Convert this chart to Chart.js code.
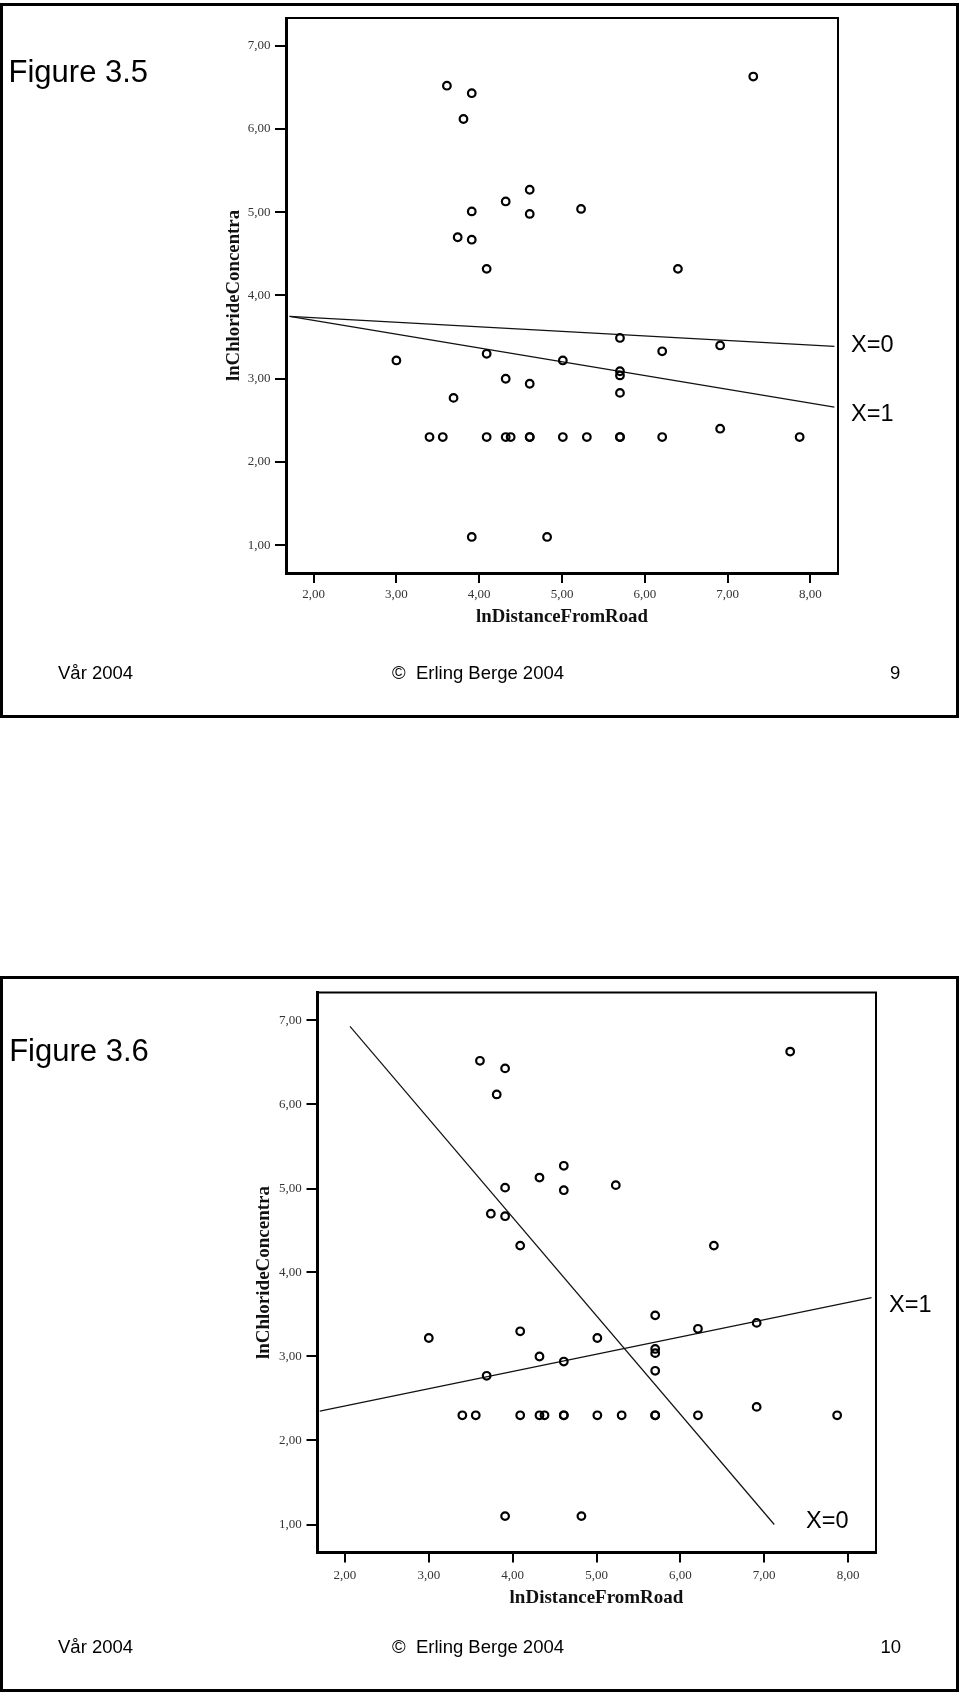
<!DOCTYPE html>
<html>
<head>
<meta charset="utf-8">
<script src="https://cdn.jsdelivr.net/npm/chart.js@4.4.1/dist/chart.umd.min.js"></script>
<style>
html,body{margin:0;padding:0;background:#fff;}
body{position:relative;width:960px;height:1695px;overflow:hidden;}
.slide{position:absolute;box-sizing:border-box;border:3px solid #000;}
canvas{position:absolute;left:0;}
.t{position:absolute;line-height:1;white-space:pre;font-family:"Liberation Sans",Arial,sans-serif;color:#000;}
</style>
</head>
<body>
<div class="slide" style="left:0;top:2.5px;width:958.5px;height:715px"></div>
<div class="slide" style="left:0;top:976.2px;width:958.5px;height:716.3px"></div>
<canvas id="fig35" width="960" height="720" style="top:0"></canvas>
<canvas id="fig36" width="960" height="720" style="top:975px"></canvas>

<div class="t" style="left:8.5px;top:55.5px;font-size:31px">Figure 3.5</div>
<div class="t" style="left:851px;top:332.7px;font-size:23.5px">X=0</div>
<div class="t" style="left:851px;top:401.6px;font-size:23.5px">X=1</div>
<div class="t" style="left:58px;top:663.8px;font-size:18.5px">Vår 2004</div>
<div class="t" style="left:392px;top:663.8px;font-size:18.5px">©  Erling Berge 2004</div>
<div class="t" style="left:890px;top:663.8px;font-size:18.5px">9</div>

<div class="t" style="left:9.2px;top:1034.5px;font-size:31px">Figure 3.6</div>
<div class="t" style="left:889px;top:1292.6px;font-size:23.5px">X=1</div>
<div class="t" style="left:806px;top:1509.4px;font-size:23.5px">X=0</div>
<div class="t" style="left:58px;top:1637.9px;font-size:18.5px">Vår 2004</div>
<div class="t" style="left:392px;top:1637.9px;font-size:18.5px">©  Erling Berge 2004</div>
<div class="t" style="left:880.5px;top:1637.9px;font-size:18.5px">10</div>

<script>
// ---- data ----
const lnDistanceFromRoad = [
  3.61, 3.91, 3.81, 4.61, 4.32, 3.91, 4.61, 5.23, 3.74, 3.91, 4.09, 6.40, 7.31,
  3.00, 4.09, 5.01, 5.70, 6.21, 6.91, 5.70, 5.70, 4.32, 4.61, 3.69, 5.70, 6.91,
  3.40, 3.56, 4.09, 4.32, 4.38, 4.61, 4.61, 5.01, 5.30, 5.70, 5.70, 6.21, 7.87,
  3.91, 4.82
];
const lnChlorideConcentra = [
  6.52, 6.43, 6.12, 5.27, 5.13, 5.01, 4.98, 5.04, 4.70, 4.67, 4.32, 4.32, 6.63,
  3.22, 3.30, 3.22, 3.49, 3.33, 3.40, 3.09, 3.04, 3.00, 2.94, 2.77, 2.83, 2.40,
  2.30, 2.30, 2.30, 2.30, 2.30, 2.30, 2.30, 2.30, 2.30, 2.30, 2.30, 2.30, 2.30,
  1.10, 1.10
];
const xTickValues = [2, 3, 4, 5, 6, 7, 8];
const yTickValues = [1, 2, 3, 4, 5, 6, 7];
const xTitle = 'lnDistanceFromRoad';
const yTitle = 'lnChlorideConcentra';

// fitted lines (end points)
const fig35X0x = [1.71, 8.29];
const fig35X0y = [3.75, 3.39];
const fig35X1x = [1.71, 8.29];
const fig35X1y = [3.75, 2.66];
const fig36X0x = [2.06, 7.12];
const fig36X0y = [6.93, 1.00];
const fig36X1x = [1.70, 8.28];
const fig36X1y = [2.35, 3.70];

const X_MIN = 5 / 3, X_MAX = 25 / 3;
const Y_MIN = 2 / 3, Y_MAX = 22 / 3;

const fmt = v => Number(v).toFixed(2).replace('.', ',');
const pts = (xs, ys) => xs.map((x, i) => ({ x: x, y: ys[i] }));

const framePlugin = {
  id: 'frame',
  afterDraw(chart) {
    const { ctx, chartArea: a } = chart;
    ctx.save();
    ctx.strokeStyle = '#000';
    ctx.lineWidth = 2;
    ctx.beginPath();
    ctx.moveTo(a.left, a.top);
    ctx.lineTo(a.right, a.top);
    ctx.lineTo(a.right, a.bottom);
    ctx.stroke();
    ctx.restore();
  }
};

function lineDs(xs, ys) {
  return {
    data: pts(xs, ys),
    showLine: true,
    borderColor: '#111',
    borderWidth: 1.2,
    pointRadius: 0,
    fill: false,
    tension: 0
  };
}

function makeChart(id, g, lines) {
  const titleLH = g.titleSize * 1.2 / 2;
  return new Chart(document.getElementById(id), {
    type: 'scatter',
    data: {
      datasets: [
        {
          data: pts(lnDistanceFromRoad, lnChlorideConcentra),
          pointStyle: 'circle',
          pointRadius: 3.8,
          pointBorderWidth: 2.2,
          pointBorderColor: '#000',
          pointBackgroundColor: 'rgba(0,0,0,0)'
        },
        ...lines
      ]
    },
    options: {
      responsive: false,
      animation: false,
      devicePixelRatio: 1,
      events: [],
      layout: { padding: { left: 0, top: g.padTop, right: g.padRight, bottom: 0 } },
      plugins: { legend: { display: false }, tooltip: { enabled: false } },
      scales: {
        x: {
          type: 'linear',
          min: X_MIN, max: X_MAX,
          afterBuildTicks: s => { s.ticks = xTickValues.map(v => ({ value: v })); },
          afterFit: s => { s.height = g.xHeight; },
          ticks: {
            callback: fmt, autoSkip: false, maxRotation: 0,
            padding: g.xTickPad, color: '#333',
            font: { family: 'Liberation Serif', size: 13 }
          },
          grid: { drawOnChartArea: false, drawTicks: true, tickLength: 10, color: '#000', lineWidth: 2 },
          border: { display: true, color: '#000', width: 3 },
          title: {
            display: true, text: xTitle, color: '#111',
            font: { family: 'Liberation Serif', size: g.titleSize, weight: 'bold' },
            padding: { top: 0, bottom: 720 - g.xTitleY - titleLH }
          }
        },
        y: {
          type: 'linear',
          min: Y_MIN, max: Y_MAX,
          afterBuildTicks: s => { s.ticks = yTickValues.map(v => ({ value: v })); },
          afterFit: s => { s.width = g.yWidth; },
          ticks: {
            callback: fmt, autoSkip: false,
            padding: g.yTickPad, color: '#333',
            font: { family: 'Liberation Serif', size: 13 }
          },
          grid: { drawOnChartArea: false, drawTicks: true, tickLength: g.yTick, color: '#000', lineWidth: 2 },
          border: { display: true, color: '#000', width: 3 },
          title: {
            display: true, text: yTitle, color: '#111',
            font: { family: 'Liberation Serif', size: g.titleSize, weight: 'bold' },
            padding: { top: g.yTitleX - titleLH, bottom: 0 }
          }
        }
      }
    },
    plugins: [framePlugin]
  });
}

makeChart('fig35', {
  padTop: 18, padRight: 122, yWidth: 286, xHeight: 147,
  xTickPad: 4.2, yTickPad: 4.5, yTick: 11,
  titleSize: 18.8, xTitleY: 617, yTitleX: 234
}, [lineDs(fig35X0x, fig35X0y), lineDs(fig35X1x, fig35X1y)]);

makeChart('fig36', {
  padTop: 17.5, padRight: 84, yWidth: 317, xHeight: 142.5,
  xTickPad: 5.2, yTickPad: 4.8, yTick: 10.5,
  titleSize: 19, xTitleY: 623, yTitleX: 264.5
}, [lineDs(fig36X0x, fig36X0y), lineDs(fig36X1x, fig36X1y)]);
</script>
</body>
</html>
